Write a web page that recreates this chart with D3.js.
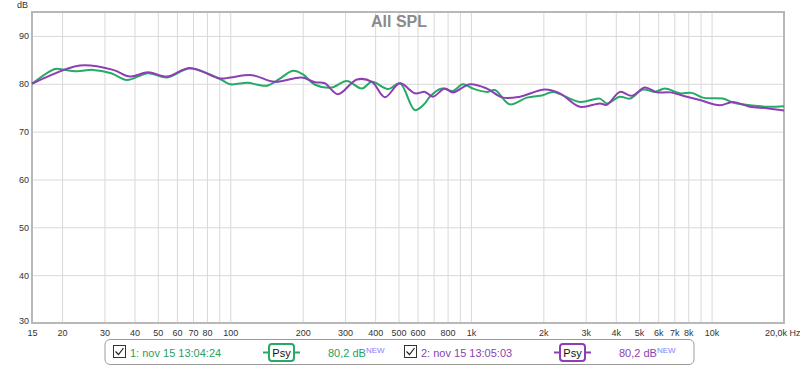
<!DOCTYPE html>
<html>
<head>
<meta charset="utf-8">
<script src="https://cdn.jsdelivr.net/npm/d3@7"></script>
<style>
  body { margin: 0; background: #fff; }
  svg { display: block; font-family: "Liberation Sans", Arial, sans-serif; }
</style>
</head>
<body>
<div id="chart"></div>
<script>
var width = 800;
var height = 367;

// measurement 1 (green)
var freq1 = [15, 18.7, 20, 23, 26.9, 32, 37.2, 45.5, 54.6, 68, 90.6, 100, 118, 130, 142, 160, 182, 200, 225, 264, 305, 352, 388, 452, 507, 585, 644, 675, 757, 842, 926, 1019, 1165, 1258, 1452, 1709, 1991, 2190, 2837, 3434, 3672, 4159, 4577, 5183, 5814, 6397, 7383, 8282, 9201, 11139, 12258, 14421, 16974, 20000];
var spl1 = [80.0, 83.1, 83.0, 82.6, 82.9, 82.2, 80.8, 82.2, 81.3, 83.2, 81.0, 79.9, 80.2, 79.8, 79.6, 81.0, 82.7, 82.0, 79.8, 79.2, 80.6, 79.0, 80.4, 78.9, 80.1, 74.5, 75.9, 77.3, 79.0, 78.5, 79.9, 79.0, 78.3, 78.7, 75.7, 77.1, 77.6, 78.3, 76.2, 76.9, 75.9, 77.3, 76.9, 78.8, 78.3, 79.0, 78.0, 78.1, 77.1, 76.9, 76.1, 75.5, 75.2, 75.3];

// measurement 2 (purple)
var freq2 = [15, 23.7, 32.6, 38.3, 45.5, 54.6, 68, 90.6, 100, 123, 153, 198, 225, 247, 280, 336, 388, 439, 507, 585, 644, 695, 779, 842, 990, 1165, 1358, 1598, 2029, 2343, 2837, 3434, 3672, 4159, 4665, 5283, 5925, 6710, 7894, 8940, 10824, 12258, 14421, 16974, 20000];
var spl2 = [80.0, 83.8, 82.9, 81.5, 82.4, 81.5, 83.3, 81.1, 81.3, 81.8, 80.4, 81.3, 80.3, 80.1, 77.8, 80.9, 80.4, 77.2, 80.1, 78.0, 78.3, 77.3, 79.0, 78.2, 79.9, 79.0, 77.1, 77.3, 78.8, 78.0, 75.2, 75.9, 75.6, 78.3, 77.5, 79.2, 78.2, 78.2, 77.3, 76.6, 75.5, 76.2, 75.2, 74.9, 74.4];

var xTickVals = [15, 20, 30, 40, 50, 60, 70, 80, 100, 200, 300, 400, 500, 600, 800, 1000, 2000, 3000, 4000, 5000, 6000, 7000, 8000, 10000];
var xTickLabels = ['15', '20', '30', '40', '50', '60', '70', '80', '100', '200', '300', '400', '500', '600', '800', '1k', '2k', '3k', '4k', '5k', '6k', '7k', '8k', '10k'];
var yTickVals = [30, 40, 50, 60, 70, 80, 90];

var series = [
  {name: '1: nov 15 13:04:24', color: '#27aa66', text: '#2a9e5e', level: '80,2 dB', f: freq1, v: spl1},
  {name: '2: nov 15 13:05:03', color: '#8e3eb5', text: '#8a3fae', level: '80,2 dB', f: freq2, v: spl2}
];

var plotL = 32, plotR = 784, plotT = 12, plotB = 323;

var x = d3.scaleLog().domain([15, 20000]).range([plotL, plotR]);
var y = d3.scaleLinear().domain([30, 95]).range([plotB, plotT]);

var svg = d3.select('#chart')
    .append('svg')
    .attr('width', width)
    .attr('height', height);

// grid lines at every 1..9 x decade
var gridFreqs = [];
[10, 100, 1000, 10000].forEach(function(d) {
  for (var k = 1; k < 10; k++) {
    var f = d * k;
    if (f > 15 && f < 20000) gridFreqs.push(f);
  }
});

svg.append('g')
    .attr('transform', 'translate(0,' + plotB + ')')
    .call(d3.axisBottom(x).tickValues(gridFreqs).tickSize(-(plotB - plotT)).tickFormat(''))
    .call(function(g) {
      g.select('.domain').remove();
      g.selectAll('line').attr('stroke', '#d9d9d9');
    });

svg.append('g')
    .attr('transform', 'translate(' + plotL + ',0)')
    .call(d3.axisLeft(y).tickValues([40, 50, 60, 70, 80, 90]).tickSize(-(plotR - plotL)).tickFormat(''))
    .call(function(g) {
      g.select('.domain').remove();
      g.selectAll('line').attr('stroke', '#d9d9d9');
    });

// frame
svg.append('rect')
    .attr('x', plotL)
    .attr('y', plotT)
    .attr('width', plotR - plotL)
    .attr('height', plotB - plotT)
    .attr('fill', 'none')
    .attr('stroke', '#b8b8b8')
    .attr('stroke-width', 2);

// title
svg.append('text')
    .attr('x', 399)
    .attr('y', 27)
    .attr('text-anchor', 'middle')
    .attr('font-size', 16)
    .attr('font-weight', 'bold')
    .attr('fill', '#8a8a8a')
    .text('All SPL');

// axis labels
svg.append('g')
    .attr('transform', 'translate(0,' + plotB + ')')
    .call(d3.axisBottom(x).tickValues(xTickVals).tickSize(0).tickPadding(7)
      .tickFormat(function(d, i) { return xTickLabels[i]; }))
    .call(function(g) {
      g.select('.domain').remove();
      g.selectAll('text').attr('font-size', 9).attr('fill', '#333').attr('font-family', null);
    });

svg.append('text')
    .attr('x', 765)
    .attr('y', 336)
    .attr('font-size', 9)
    .attr('fill', '#333')
    .text('20,0k Hz');

svg.append('g')
    .attr('transform', 'translate(' + (plotL - 3) + ',0)')
    .call(d3.axisLeft(y).tickValues(yTickVals).tickSize(0).tickPadding(0))
    .call(function(g) {
      g.select('.domain').remove();
      g.selectAll('text').attr('font-size', 9).attr('fill', '#333').attr('font-family', null);
      g.selectAll('.tick').filter(function(d) { return d === 30; }).select('text').attr('dy', '0.1em');
    });

svg.append('text')
    .attr('x', 17)
    .attr('y', 8)
    .attr('font-size', 9)
    .attr('fill', '#333')
    .text('dB');

// curves
var line = d3.line()
    .x(function(d) { return x(d[0]); })
    .y(function(d) { return y(d[1]); })
    .curve(d3.curveCatmullRom.alpha(0.5));

series.forEach(function(s) {
  svg.append('path')
      .datum(s.f.map(function(f, i) { return [f, s.v[i]]; }))
      .attr('fill', 'none')
      .attr('stroke', s.color)
      .attr('stroke-width', 2)
      .attr('d', line);
});

// legend
svg.append('rect')
    .attr('x', 105)
    .attr('y', 339.5)
    .attr('width', 589)
    .attr('height', 25)
    .attr('rx', 5)
    .attr('fill', '#fff')
    .attr('stroke', '#9a9a9a');

var legend = svg.selectAll('.legend')
    .data(series)
    .enter()
    .append('g')
    .attr('class', 'legend')
    .attr('transform', function(d, i) { return 'translate(' + (113 + i * 291) + ',0)'; });

legend.append('rect')
    .attr('x', 0.5)
    .attr('y', 345.5)
    .attr('width', 12)
    .attr('height', 12)
    .attr('fill', '#fff')
    .attr('stroke', '#333');

legend.append('path')
    .attr('d', 'M2.5,351.5 L5.5,354.5 L10.5,348')
    .attr('fill', 'none')
    .attr('stroke', '#222')
    .attr('stroke-width', 1.2);

legend.append('text')
    .attr('x', 17)
    .attr('y', 357)
    .attr('font-size', 11)
    .attr('fill', function(d) { return d.text; })
    .text(function(d) { return d.name; });

legend.append('line')
    .attr('x1', 150)
    .attr('x2', 187)
    .attr('y1', 352.5)
    .attr('y2', 352.5)
    .attr('stroke', function(d) { return d.color; })
    .attr('stroke-width', 2);

legend.append('rect')
    .attr('x', 156)
    .attr('y', 344)
    .attr('width', 25)
    .attr('height', 17)
    .attr('rx', 3)
    .attr('fill', '#fff')
    .attr('stroke', function(d) { return d.color; })
    .attr('stroke-width', 2);

legend.append('text')
    .attr('x', 168.5)
    .attr('y', 356.5)
    .attr('text-anchor', 'middle')
    .attr('font-size', 11)
    .attr('fill', '#111')
    .text('Psy');

var lvl = legend.append('text')
    .attr('x', 215)
    .attr('y', 357)
    .attr('font-size', 11)
    .attr('fill', function(d) { return d.text; });

lvl.append('tspan')
    .text(function(d) { return d.level; });

lvl.append('tspan')
    .attr('dy', -4)
    .attr('font-size', 8)
    .attr('fill', '#8080ff')
    .text('NEW');
</script>
</body>
</html>
